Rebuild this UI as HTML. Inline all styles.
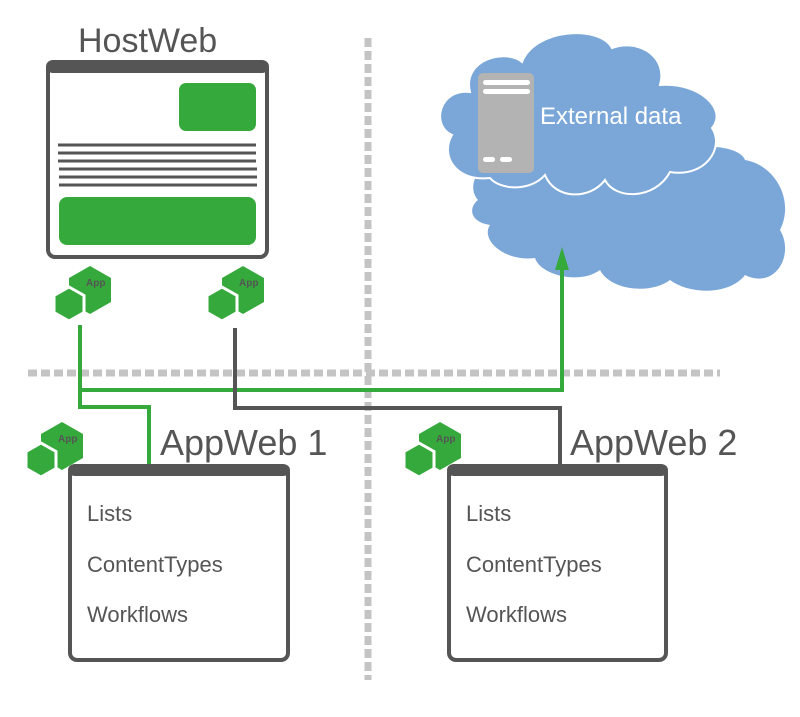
<!DOCTYPE html>
<html><head><meta charset="utf-8"><style>
body{margin:0;background:#fff;}
svg{display:block;font-family:"Liberation Sans",sans-serif;}
</style></head><body>
<svg width="800" height="717" viewBox="0 0 800 717">
<defs>
<g id="app">
<polygon points="35,1 56,13 56,37 35,49 14,37 14,13" fill="#36a93c"/>
<polygon points="14,22 29,30.5 29,47.5 14,56 -1,47.5 -1,30.5" fill="#36a93c" stroke="#fff" stroke-width="3"/>
<text x="31" y="21" font-size="10" font-weight="bold" fill="#555">App</text>
</g>
</defs>
<!-- lower cloud -->
<path d="M478,200 C465,185 480,160 505,165 C520,150 560,150 575,165 C600,140 650,140 665,160 C690,140 740,145 745,160 C775,165 795,200 780,230 C795,255 775,290 745,275 C730,295 690,295 670,280 C650,295 610,290 600,270 C580,285 540,275 535,258 C505,262 480,240 490,225 C470,222 468,208 478,200 Z" fill="#7ba7d8"/>
<!-- upper cloud -->
<path d="M490,178 C455,182 440,155 452,135 C430,125 440,88 470,92 C462,60 505,48 522,62 C535,28 600,25 612,48 C640,38 668,58 660,85 C700,82 728,110 712,128 C725,148 705,178 670,172 C655,200 615,200 605,180 C590,200 555,200 545,175 C530,192 500,190 490,178 Z" fill="#7ba7d8" stroke="#fff" stroke-width="2"/>
<rect x="478" y="73" width="56" height="100" rx="5" fill="#b3b3b3"/>
<rect x="483" y="80" width="47" height="5" rx="2.5" fill="#fff"/>
<rect x="483" y="89" width="47" height="5" rx="2.5" fill="#fff"/>
<rect x="483" y="157" width="12" height="5" rx="2.5" fill="#fff"/>
<rect x="500" y="157" width="12" height="5" rx="2.5" fill="#fff"/>
<text x="540" y="124" font-size="24" fill="#fff">External data</text>
<!-- dashed lines -->
<line x1="28" y1="373" x2="720" y2="373" stroke="#c4c4c4" stroke-width="7" stroke-dasharray="9,4"/>
<line x1="368" y1="38" x2="368" y2="680" stroke="#c4c4c4" stroke-width="7" stroke-dasharray="9,4"/>
<!-- connectors -->
<polyline points="80,325 80,407 149,407 149,465" fill="none" stroke="#36a93c" stroke-width="4"/>
<polyline points="80,390 562,390 562,268" fill="none" stroke="#36a93c" stroke-width="4"/>
<polygon points="562,247 555,270 569,270" fill="#36a93c"/>
<polyline points="235,328 235,408 560,408 560,465" fill="none" stroke="#555" stroke-width="4"/>
<!-- HostWeb -->
<text x="78" y="52" font-size="34" fill="#555">HostWeb</text>
<rect x="48" y="62" width="219" height="195" rx="7" fill="#fff" stroke="#555" stroke-width="4"/>
<rect x="46" y="60" width="223" height="13" rx="7" fill="#555"/>
<rect x="179" y="83" width="77" height="48" rx="7" fill="#36a93c"/>
<g stroke="#555" stroke-width="3">
<line x1="58" y1="145" x2="256" y2="145"/><line x1="58" y1="153" x2="256" y2="153"/>
<line x1="58" y1="161" x2="256" y2="161"/><line x1="59" y1="169" x2="257" y2="169"/>
<line x1="59" y1="177" x2="257" y2="177"/><line x1="59" y1="185" x2="257" y2="185"/>
</g>
<rect x="59" y="197" width="197" height="48" rx="8" fill="#36a93c"/>
<use href="#app" x="55" y="265"/>
<use href="#app" x="208" y="265"/>
<use href="#app" x="27" y="421"/>
<use href="#app" x="405" y="421"/>
<!-- AppWeb 1 -->
<text x="160" y="455" font-size="36" fill="#555">AppWeb 1</text>
<rect x="70" y="466" width="218" height="194" rx="7" fill="#fff" stroke="#555" stroke-width="4"/>
<rect x="68" y="464" width="222" height="12" rx="7" fill="#555"/>
<g font-size="22" fill="#555">
<text x="87" y="521">Lists</text><text x="87" y="572">ContentTypes</text><text x="87" y="622">Workflows</text>
</g>
<!-- AppWeb 2 -->
<text x="570" y="455" font-size="36" fill="#555">AppWeb 2</text>
<rect x="449" y="466" width="217" height="194" rx="7" fill="#fff" stroke="#555" stroke-width="4"/>
<rect x="447" y="464" width="221" height="12" rx="7" fill="#555"/>
<g font-size="22" fill="#555">
<text x="466" y="521">Lists</text><text x="466" y="572">ContentTypes</text><text x="466" y="622">Workflows</text>
</g>
</svg>
</body></html>
